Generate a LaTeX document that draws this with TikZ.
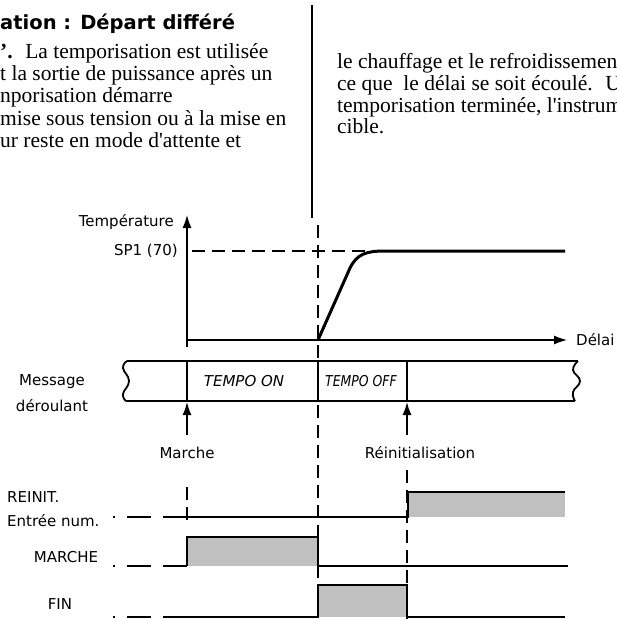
\documentclass[tikz,border=0pt]{standalone}
\usepackage{fontspec}
\setmainfont{DejaVu Sans}
\newfontfamily\textserif{Liberation Serif}
\usetikzlibrary{arrows.meta}
\definecolor{gris}{RGB}{192,192,192}

\begin{document}
\begin{tikzpicture}[x=1pt, y=-1pt,
  every node/.style={inner sep=0pt, font=\fontsize{15}{17}\selectfont},
  ligne/.style={anchor=base west, font=\textserif\fontsize{21.5}{22}\selectfont},
  signal/.style={line width=2.5pt},
  repere/.style={line width=1.5pt, dash pattern=on 13pt off 7pt},
  attente/.style={line width=2.5pt, dash pattern=on 24pt off 12pt},
  fleche/.style={line width=1.5pt, -{Latex[length=13pt,width=9pt]}}]
\useasboundingbox (0,0) rectangle (617,619);

% texte au-dessus du chronogramme
\node[anchor=base west, font=\bfseries\fontsize{19.5}{20}\selectfont] (titre) at (0,29) {ation : Départ différé};
\node[ligne] (g1) at (0,58.5) {\textbf{’.}~ La temporisation est utilisée};
\node[ligne] (g2) at (0,80.7) {t la sortie de puissance après un};
\node[ligne] (g3) at (0,102.9) {nporisation démarre};
\node[ligne] (g4) at (0,125.1) {mise sous tension ou à la mise en};
\node[ligne] (g5) at (0,147.3) {ur reste en mode d'attente et};
\node[ligne] (d1) at (337,68) {le chauffage et le refroidissement};
\node[ligne] (d2) at (337,90) {ce que~ le délai se soit écoulé.~ Un};
\node[ligne] (d3) at (337,112) {temporisation terminée, l'instrum};
\node[ligne] (d4) at (337,133) {cible.};
\draw[line width=2.7pt] (312,5) -- (312,218);

% courbe de température
\draw[fleche, line width=1.3pt] (187,347) -- (187,215);
\draw[fleche, line width=1.3pt] (187,340) -- (567,340);
\node[anchor=east] (temp) at (174,222) {Température};
\node[anchor=east] (sp) at (178,251) {SP1 (70)};
\node[anchor=west] (delai) at (576,340) {Délai};
\draw[repere] (sp.east) ++(14,0) -- (380,251);
\draw[line width=3pt] (318,340) -- (350,268) .. controls (357,254) and (366,251) .. (385,251) -- (565,251);

% repères verticaux
\draw[repere] (318,225) -- (318,619);
\draw[repere] (407,470) -- (407,619);
\draw[repere] (187,487) -- (187,527);

% message déroulant
\node (msg) at (52,382) {Message};
\node (der) at (52,406) {déroulant};
\draw[line width=2.8pt] (127,361) -- (578,361);
\draw[line width=2.8pt] (126,401) -- (575,401);
\draw[line width=1.8pt] plot[smooth, tension=0.8] coordinates {(127,361) (123,368) (129,381) (123,394) (126,401)};
\draw[line width=1.8pt] plot[smooth, tension=0.8] coordinates {(578,361) (573,370) (580,381) (573,392) (575,401)};
\foreach \x in {187,318,407}
  \draw[line width=2.8pt] (\x,361) -- (\x,401);
\node[font=\itshape\fontsize{15}{17}\selectfont] (on) at (244,381) {TEMPO ON};
\node[font=\itshape\fontsize{15}{17}\selectfont] (off) at (361,381) {\scalebox{0.83}[1]{TEMPO OFF}};

% événements
\coordinate (m) at (187,402);
\coordinate (r) at (407,402);
\node (marche) at (187,453) {Marche};
\node (reinit) at (420,453) {Réinitialisation};
\draw[fleche] (marche.north) ++(0,-12) -- (m);
\draw[fleche] (reinit.north -| r) ++(0,-12) -- (r);

% entrées et sorties
\node[anchor=west] (e1) at (7,497) {REINIT.};
\node[anchor=west] (e2) at (7,521) {Entrée num.};
\node (s1) at (66,557) {MARCHE};
\node (s2) at (60,604) {FIN};
\fill[gris] (408,492) rectangle (565,517);
\fill[gris] (187,537) rectangle (318,566);
\fill[gris] (318,585) rectangle (407,617);
\draw[attente] (187,517) -- (113,517);
\draw[attente] (187,566) -- (113,566);
\draw[attente] (187,617) -- (113,617);
\draw[signal] (187,517) -- (408,517) -- (408,492) -- (565,492);
\draw[signal] (187,566) -- (187,537) -- (318,537) -- (318,566) -- (568,566);
\draw[signal] (187,617) -- (318,617) -- (318,585) -- (407,585) -- (407,617) -- (565,617);
\end{tikzpicture}
\end{document}
